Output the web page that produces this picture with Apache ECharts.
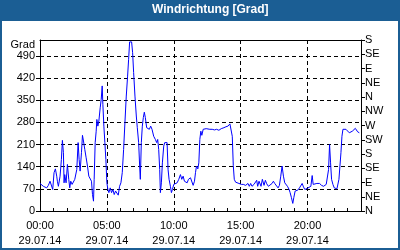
<!DOCTYPE html>
<html><head><meta charset="utf-8">
<script src="https://cdn.jsdelivr.net/npm/echarts@6/dist/echarts.min.js"></script>
<style>html,body{margin:0;padding:0;background:#fff}#c{width:400px;height:250px}</style>
</head><body><div id="c"></div>
<script>
const titleText = 'Windrichtung [Grad]';
const yName = 'Grad';
const dateLabel = '29.07.14';
const xTickHours = [0, 5, 10, 15, 20];
const leftTicks = [0, 70, 140, 210, 280, 350, 420, 490];
const rightTickValues = [0, 45, 90, 135, 180, 225, 270, 315, 360, 405, 450, 495, 540];
const rightTickLabels = ['N', 'NE', 'E', 'SE', 'S', 'SW', 'W', 'NW', 'N', 'NE', 'E', 'SE', 'S'];
const hours = [
  0,0.125,0.25,0.375,0.5,0.625,0.75,0.875,0.95,1.05,
  1.15,1.25,1.3,1.375,1.5,1.6,1.675,1.75,1.8,1.85,
  1.95,2.05,2.15,2.225,2.3,2.4,2.5,2.6,2.75,2.85,
  2.925,3.0,3.1,3.175,3.25,3.35,3.45,3.55,3.65,3.75,
  3.85,3.925,4.0,4.05,4.125,4.2,4.25,4.325,4.4,4.5,
  4.575,4.65,4.7,4.775,4.85,4.925,5.0,5.075,5.15,5.25,
  5.35,5.45,5.55,5.65,5.75,5.85,5.95,6.05,6.15,6.25,
  6.35,6.45,6.55,6.625,6.7,6.85,6.925,7.0,7.1,7.2,
  7.275,7.375,7.45,7.5,7.575,7.65,7.725,7.8,7.875,7.975,
  8.075,8.175,8.275,8.375,8.5,8.625,8.725,8.8,8.875,8.95,
  9.0,9.075,9.15,9.25,9.325,9.4,9.5,9.575,9.65,9.75,
  9.825,9.9,10.0,10.1,10.25,10.375,10.5,10.6,10.7,10.8,
  10.9,11.0,11.1,11.2,11.25,11.375,11.45,11.55,11.625,11.7,
  11.8,11.875,11.95,12.025,12.1,12.2,12.3,12.425,12.55,12.7,
  12.875,13.05,13.2,13.375,13.55,13.75,13.9,14.05,14.2,14.3,
  14.375,14.45,14.525,14.625,14.75,14.875,15.05,15.2,15.375,15.55,
  15.65,15.75,15.85,16.0,16.125,16.2,16.275,16.375,16.45,16.525,
  16.625,16.75,16.85,16.95,17.075,17.2,17.35,17.45,17.55,17.65,
  17.8,17.9,18.0,18.1,18.2,18.3,18.4,18.5,18.625,18.7,
  18.8,18.9,18.975,19.075,19.175,19.275,19.4,19.5,19.6,19.7,
  19.8,19.875,20.0,20.125,20.25,20.35,20.425,20.55,20.7,20.8,
  20.9,21.05,21.2,21.3,21.4,21.5,21.575,21.65,21.725,21.8,
  21.9,22.0,22.1,22.2,22.275,22.35,22.425,22.5,22.575,22.65,
  22.75,22.875,23.0,23.125,23.25,23.35,23.45,23.575,23.675,23.75,
  23.875
];
const degrees = [
  87,89,78,84,73,81,94,91,68,121,
  133,110,94,78,110,163,223,184,89,115,
  89,147,100,73,94,84,89,100,131,216,
  163,126,184,239,221,194,168,142,110,105,
  94,52,31,100,216,252,289,268,284,326,
  352,395,337,268,216,163,89,68,58,73,
  58,68,52,63,58,50,78,89,121,194,
  279,363,426,479,534,534,500,437,363,300,
  263,216,142,100,216,268,295,312,295,263,
  258,258,268,258,236,226,216,226,194,131,
  58,89,152,205,216,221,216,131,100,78,
  58,68,84,84,89,100,115,100,110,94,
  89,89,100,94,105,110,81,94,121,142,
  133,152,226,252,239,258,263,260,260,258,
  258,256,258,255,260,263,266,268,275,273,
  236,144,100,91,89,87,84,84,81,87,
  78,87,78,84,89,97,78,94,100,78,
  100,81,97,86,78,84,87,94,87,84,
  73,81,110,142,110,89,87,78,68,58,
  42,24,42,63,68,66,73,70,87,76,
  68,73,72,78,78,112,84,78,87,84,
  87,81,78,81,84,84,131,210,152,100,
  84,73,72,70,73,100,142,184,236,258,
  263,258,252,247,242,252,258,261,258,250,
  247
];

const FONT = 'Liberation Sans, Arial, sans-serif';
const dash = { color: '#000', type: [4, 3], width: 1 };
const hourMinorTicks = [];
for (let h = 0; h <= 24; h++) hourMinorTicks.push(h);

const chart = echarts.init(document.getElementById('c'), null, { renderer: 'canvas' });
chart.setOption({
  animation: false,
  backgroundColor: '#1b5e94',
  title: {
    text: titleText, left: 152, top: 4, padding: 0,
    textStyle: { color: '#fff', fontSize: 12, fontWeight: 'bold', fontFamily: FONT }
  },
  graphic: [{ type: 'rect', z: -10, silent: true, shape: { x: 2, y: 21, width: 396, height: 227 }, style: { fill: '#fff' } }],
  grid: { left: 40, right: 39, top: 40, bottom: 39 },
  xAxis: [
    {
      type: 'value', min: 0, max: 24, position: 'bottom',
      axisLine: { show: true, onZero: false, lineStyle: { color: '#000', width: 1 } },
      axisTick: { show: false },
      axisLabel: {
        customValues: xTickHours,
        formatter: v => String(v).padStart(2, '0') + ':00\n' + dateLabel,
        color: '#000', fontSize: 11, fontFamily: FONT, lineHeight: 15, margin: 7
      },
      splitLine: { show: true, lineStyle: dash }
    },
    {
      type: 'value', min: 0, max: 24, position: 'bottom',
      axisLine: { show: false },
      axisTick: { show: true, inside: true, length: 3, customValues: hourMinorTicks, lineStyle: { color: '#000' } },
      axisLabel: { show: false },
      splitLine: { show: false }
    },
    {
      type: 'value', min: 0, max: 24, position: 'top',
      axisLine: { show: true, onZero: false, lineStyle: { color: '#000', width: 1 } },
      axisTick: { show: false }, axisLabel: { show: false }, splitLine: { show: false }
    }
  ],
  yAxis: [
    {
      type: 'value', min: 0, max: 540, position: 'left',
      name: yName, nameLocation: 'end', nameGap: -7,
      nameTextStyle: { color: '#000', fontSize: 11, fontFamily: FONT, align: 'right', verticalAlign: 'middle', padding: [0, 5, 0, 0] },
      axisLine: { show: true, onZero: false, lineStyle: { color: '#000', width: 1 } },
      axisTick: { show: true, length: 4, customValues: leftTicks, lineStyle: { color: '#000' } },
      axisLabel: { customValues: leftTicks, color: '#000', fontSize: 11, fontFamily: FONT, margin: 5 },
      splitLine: { show: true, lineStyle: dash }
    },
    {
      type: 'value', min: 0, max: 540, position: 'right',
      axisLine: { show: true, onZero: false, lineStyle: { color: '#000', width: 1 } },
      axisTick: { show: true, length: 4, customValues: rightTickValues, lineStyle: { color: '#000' } },
      axisLabel: {
        customValues: rightTickValues,
        formatter: v => rightTickLabels[rightTickValues.indexOf(v)],
        color: '#000', fontSize: 11, fontFamily: FONT, margin: 4
      },
      splitLine: { show: false }
    }
  ],
  series: [{
    type: 'line', xAxisIndex: 0, yAxisIndex: 0,
    data: hours.map((h, i) => [h, degrees[i]]),
    showSymbol: false, symbol: 'none',
    lineStyle: { color: '#0000ff', width: 1 }
  }]
});
</script></body></html>
